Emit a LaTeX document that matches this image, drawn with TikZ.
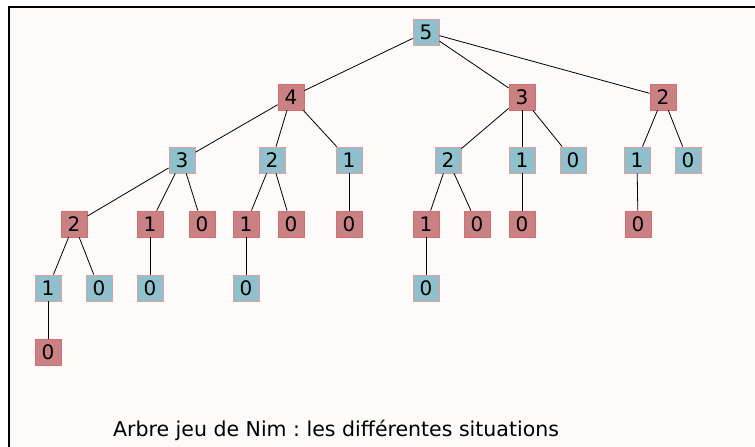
\documentclass[tikz,border=0pt]{standalone}
\usepackage{fontspec}
\setmainfont{DejaVu Sans}
\usetikzlibrary{positioning}
\frenchspacing
\definecolor{nimblue}{RGB}{143, 192, 203}
\definecolor{nimred}{RGB}{201, 129, 131}
\definecolor{nimbluedraw}{RGB}{224, 160, 162}
\definecolor{nimreddraw}{RGB}{212, 110, 112}
\definecolor{nimback}{RGB}{252, 251, 250}
\tikzset{
    situation/.style={rectangle, minimum width=26pt, minimum height=26pt, inner sep=0pt, line width=0.8pt, font=\fontsize{20}{24}\selectfont},
    bleu/.style={situation, draw=nimbluedraw, fill=nimblue},
    rouge/.style={situation, draw=nimreddraw, fill=nimred},
    coup/.style={draw, black, line width=0.8pt}
}

\begin{document}
\begin{tikzpicture}[x=1pt, y=-1pt]
        \useasboundingbox (0,0) rectangle (755,447);
        % Background and frame
        \fill[nimback] (9,7) rectangle (755,447);
        \draw[line width=1.6pt] (9,447) -- (9,7) -- (755,7);

        % Level 0
        \node[bleu] (r) at (426,32) {5};
        % Level 1
        \node[rouge] (a) at (291,97) {4};
        \node[rouge] (b) at (522,97) {3};
        \node[rouge] (c) at (663,97) {2};
        % Level 2
        \node[bleu] (aa) at (182,160) {3};
        \node[bleu] (ab) at (272,160) {2};
        \node[bleu] (ac) at (349,160) {1};
        \node[bleu] (ba) at (448,160) {2};
        \node[bleu] (bb) at (522,160) {1};
        \node[bleu] (bc) at (573,160) {0};
        \node[bleu] (ca) at (637,160) {1};
        \node[bleu] (cb) at (688,160) {0};
        % Level 3
        \node[rouge] (aaa) at (74,224) {2};
        \node[rouge] (aab) at (150,224) {1};
        \node[rouge] (aac) at (202,224) {0};
        \node[rouge] (aba) at (246,224) {1};
        \node[rouge] (abb) at (291,224) {0};
        \node[rouge] (aca) at (349,224) {0};
        \node[rouge] (baa) at (426,224) {1};
        \node[rouge] (bab) at (477,224) {0};
        \node[rouge] (bba) at (522,224) {0};
        \node[rouge] (caa) at (638,224) {0};
        % Level 4
        \node[bleu] (aaaa) at (48,288) {1};
        \node[bleu] (aaab) at (99,288) {0};
        \node[bleu] (aaba) at (150,288) {0};
        \node[bleu] (abaa) at (246,288) {0};
        \node[bleu] (baaa) at (426,288) {0};
        % Level 5
        \node[rouge] (aaaaa) at (48,352) {0};

        % Moves
        \foreach \p/\q in {r/a, r/b, r/c, a/aa, a/ab, a/ac, b/ba, b/bb, b/bc, c/ca, c/cb,
            aa/aaa, aa/aab, aa/aac, ab/aba, ab/abb, ac/aca, ba/baa, ba/bab, bb/bba, ca/caa,
            aaa/aaaa, aaa/aaab, aab/aaba, aba/abaa, baa/baaa, aaaa/aaaaa}
            \draw[coup] (\p) -- (\q);

        \node[anchor=base west, inner sep=0pt, font=\fontsize{20.5}{24}\selectfont] (titre) at (113,436) {Arbre jeu de Nim : les différentes situations};
    \end{tikzpicture}
\end{document}
